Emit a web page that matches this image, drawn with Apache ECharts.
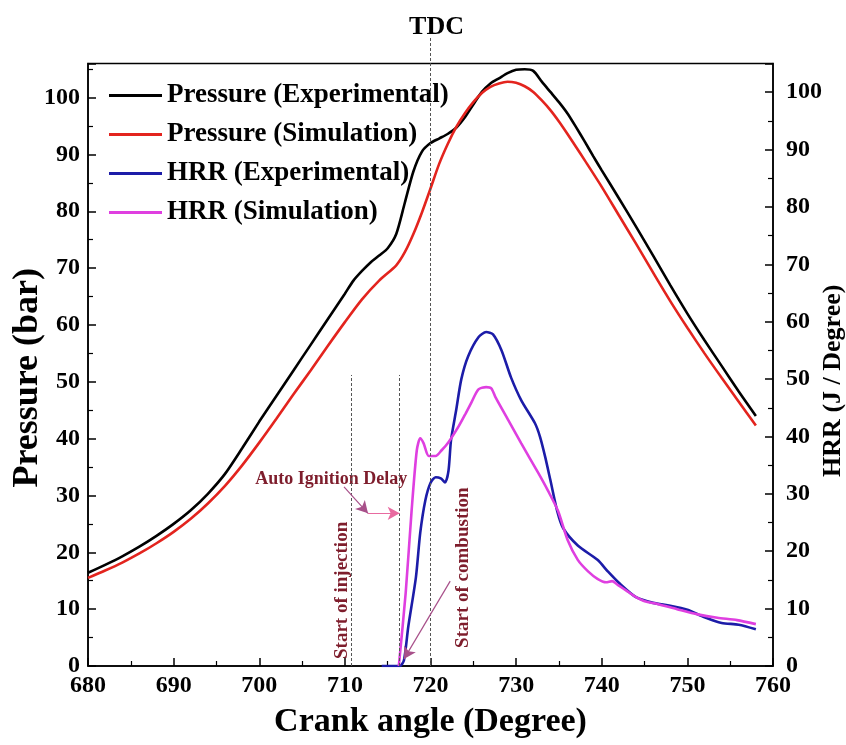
<!DOCTYPE html>
<html><head><meta charset="utf-8">
<script src="https://cdn.jsdelivr.net/npm/echarts@6/dist/echarts.min.js"></script>
<style>html,body{margin:0;padding:0;background:#fff}#c{width:846px;height:745px}</style>
</head><body><div id="c"></div>
<script>
const FONT = '"Liberation Serif","Times New Roman",serif';

const seriesNames = ['Pressure (Experimental)', 'Pressure (Simulation)', 'HRR (Experimental)', 'HRR (Simulation)'];
const seriesColors = ['#000000', '#e3241e', '#1c1ca8', '#df3fe0'];

const pExpAngle = [680,682,684,686,688,690,692,694,696,698,700,702,704,706,708,710,711,712,713,714,715,716,717,718,719,720,721,722,723,724,725,726,727,728,729,730,731,732,733,734,735,736,737,738,739,740,742,744,746,748,750,752,754,756,758];
const pExpValue = [16.4,17.8,19.3,21,22.9,25,27.4,30.3,33.8,38.3,43,47.5,52,56.5,61,65.5,67.8,69.5,71,72.2,73.5,76,81.5,87,90.5,92,92.8,93.6,94.7,96.5,98.8,101,102.5,103.4,104.3,104.9,105,104.7,102.8,101,99.2,97.2,94.8,92.3,89.7,87.2,82.3,77.3,72.2,67,62,57.3,52.8,48.3,44];

const pSimAngle = [680,682,684,686,688,690,692,694,696,698,700,702,704,706,708,710,712,714,716,717,718,719,720,721,722,723,724,725,726,727,728,729,730,731,732,733,734,735,736,737,738,740,742,744,746,748,750,752,754,756,758];
const pSimValue = [15.5,16.8,18.2,19.8,21.6,23.6,25.9,28.6,31.7,35.3,39.3,43.5,47.8,52,56.3,60.5,64.5,67.8,70.5,72.8,76,79.8,84,88.3,91.8,94.8,97.2,99.2,100.8,101.9,102.5,102.8,102.6,102,101,99.5,97.8,95.8,93.6,91.3,89,84.3,79.3,74.3,69.2,64.2,59.5,55,50.7,46.5,42.3];

const hExpAngle = [714.3,716.4,716.9,717.4,718.3,718.8,719.4,720.0,720.6,721.2,721.7,722.1,722.4,723.0,723.6,724.4,725.6,726.5,727.3,728.3,729.4,730.6,732.2,732.8,733.4,734.0,734.8,735.5,737.2,739.5,740.7,742,744,746,748,750,752,754,756,758];
const hExpValue = [0,0,1,6.8,15.5,23.2,28.9,31.9,32.9,32.7,32.0,34,39.4,44.6,50,54,57.3,58.2,57.8,55,50.3,46.3,42.3,39.9,36.4,32.4,27,24,21,18.5,16.5,14.5,12,11,10.5,9.8,8.5,7.5,7.2,6.4];

const hSimAngle = [716.3,717.1,717.8,718.4,718.8,719.2,719.8,720.6,721.3,722.1,723.3,724.1,724.8,725.6,726.5,727.1,727.6,729.1,730.6,732.6,733.7,734.9,736,737.2,738.4,739.5,740.5,741.2,742,743,744,745,746.5,748.8,751.2,753.5,755.8,758];
const hSimValue = [0,12.7,27.2,37.6,39.7,38.8,36.6,36.6,37.6,39,41.8,44,46,48.2,48.6,48.4,46.8,42.8,38.8,33.6,30.6,27,22,18.5,16.5,15.2,14.6,14.8,14,13,12,11.3,10.8,9.9,9,8.4,8,7.3];

const xTicks = {min: 680, max: 760, step: 10};
const leftTicks = {min: 0, max: 106, step: 10};
const rightTicks = {min: 0, max: 105, step: 10};

const markerAngles = {injection: 710.8, combustion: 716.3, tdc: 720};

function zip(a, b) { return a.map((v, i) => [v, b[i]]); }

const chart = echarts.init(document.getElementById('c'));

const axisCommon = {
  axisLine: {show: true, lineStyle: {color: '#000', width: 1.5}},
  axisTick: {show: true, inside: true, length: 8, lineStyle: {color: '#000', width: 1.5}},
  minorTick: {show: true, splitNumber: 2, length: 5, lineStyle: {color: '#000', width: 1.2}},
  splitLine: {show: false},
  minorSplitLine: {show: false},
  nameMoveOverlap: false,
  axisLabel: {color: '#000', fontFamily: FONT, fontWeight: 'bold', fontSize: 24,
    formatter: v => (Math.abs(v % 10) < 1e-9 ? String(v) : '')},
  nameTextStyle: {color: '#000', fontFamily: FONT, fontWeight: 'bold'}
};

const lineBase = {type: 'line', symbol: 'none', smooth: 0.25, lineStyle: {width: 2.6}};

const annoStyle = {color: '#555', width: 1, type: [3, 2]};

chart.setOption({
  animation: false,
  backgroundColor: '#fff',
  grid: {left: 88, right: 73, top: 63.5, bottom: 79, outerBoundsMode: 'none', containLabel: false,
    show: true, borderColor: '#000', borderWidth: 1.5, backgroundColor: 'transparent'},
  legend: {
    orient: 'vertical', left: 104, top: 77, itemWidth: 53, itemHeight: 3, itemGap: 12, icon: 'rect',
    data: seriesNames,
    textStyle: {color: '#000', fontFamily: FONT, fontWeight: 'bold', fontSize: 27}
  },
  xAxis: Object.assign({}, axisCommon, {
    type: 'value', min: xTicks.min, max: xTicks.max, interval: xTicks.step,
    name: 'Crank angle (Degree)', nameLocation: 'middle', nameGap: 39,
    nameTextStyle: {color: '#000', fontFamily: FONT, fontWeight: 'bold', fontSize: 34},
    axisLabel: Object.assign({}, axisCommon.axisLabel, {margin: 8})
  }),
  yAxis: [
    Object.assign({}, axisCommon, {
      type: 'value', min: leftTicks.min, max: leftTicks.max, interval: leftTicks.step, position: 'left',
      name: 'Pressure (bar)', nameLocation: 'middle', nameGap: 42, nameRotate: 90,
      nameTextStyle: {color: '#000', fontFamily: FONT, fontWeight: 'bold', fontSize: 36, padding: [0, 26, 0, 0]},
      axisLabel: Object.assign({}, axisCommon.axisLabel, {margin: 8})
    }),
    Object.assign({}, axisCommon, {
      type: 'value', min: rightTicks.min, max: rightTicks.max, interval: rightTicks.step, position: 'right',
      name: 'HRR (J / Degree)', nameLocation: 'middle', nameGap: 47, nameRotate: 90,
      nameTextStyle: {color: '#000', fontFamily: FONT, fontWeight: 'bold', fontSize: 26, padding: [0, 32, 0, 0]},
      axisLabel: Object.assign({}, axisCommon.axisLabel, {margin: 13})
    })
  ],
  series: [
    Object.assign({}, lineBase, {name: seriesNames[0], color: seriesColors[0], yAxisIndex: 0, data: zip(pExpAngle, pExpValue), z: 3}),
    Object.assign({}, lineBase, {name: seriesNames[1], color: seriesColors[1], yAxisIndex: 0, data: zip(pSimAngle, pSimValue), z: 3,
      markLine: {
        silent: true, symbol: 'none', label: {show: false}, lineStyle: annoStyle,
        data: [
          [{coord: [markerAngles.injection, 0]}, {coord: [markerAngles.injection, 51.2]}],
          [{coord: [markerAngles.combustion, 0]}, {coord: [markerAngles.combustion, 51.2]}],
          [{coord: [markerAngles.tdc, 0]}, {coord: [markerAngles.tdc, leftTicks.max]}]
        ]
      }}),
    Object.assign({}, lineBase, {name: seriesNames[2], color: seriesColors[2], yAxisIndex: 1, data: zip(hExpAngle, hExpValue), z: 4,
      markLine: {
        silent: true, symbol: ['none', 'arrow'], symbolSize: [10, 12], label: {show: false},
        data: [
          [{coord: [709.9, 31.2], lineStyle: {color: '#a8508a', width: 1.2, type: 'solid'}, symbol: 'none'},
           {coord: [712.7, 26.6], symbol: 'arrow', itemStyle: {color: '#e8307a'}}],
          [{coord: [712.7, 26.6], lineStyle: {color: '#e86aa0', width: 1.2, type: 'solid'}, symbol: 'none'},
           {coord: [716.4, 26.6], symbol: 'arrow', itemStyle: {color: '#e8307a'}}],
          [{coord: [722.3, 14.8], lineStyle: {color: '#a8508a', width: 1.2, type: 'solid'}, symbol: 'none'},
           {coord: [716.9, 1.2], symbol: 'arrow', itemStyle: {color: '#e8307a'}}]
        ]
      }}),
    Object.assign({}, lineBase, {name: seriesNames[3], color: seriesColors[3], yAxisIndex: 1, data: zip(hSimAngle, hSimValue), z: 4})
  ]
});

function px(x, y) { return chart.convertToPixel({xAxisIndex: 0, yAxisIndex: 0}, [x, y]); }

const tdcTop = px(markerAngles.tdc, leftTicks.max);
const autoPos = px(708.4, 32.9);
const injPos = px(709.7, 13.3);
const combPos = px(723.8, 17.3);
const annoColor = '#7e1d2c';

chart.setOption({
  graphic: [
    {type: 'line', silent: true, shape: {x1: tdcTop[0], y1: 38, x2: tdcTop[0], y2: tdcTop[1]},
      style: {stroke: '#555', lineWidth: 1, lineDash: [3, 2]}},
    {type: 'text', silent: true, x: tdcTop[0] + 6, y: 27,
      style: {text: 'TDC', fill: '#000', font: 'bold 26px ' + FONT, align: 'center', verticalAlign: 'middle'}},
    {type: 'text', silent: true, x: autoPos[0], y: autoPos[1],
      style: {text: 'Auto Ignition Delay', fill: annoColor, font: 'bold 18px ' + FONT, align: 'center', verticalAlign: 'middle'}},
    {type: 'text', silent: true, x: injPos[0], y: injPos[1], rotation: Math.PI / 2,
      style: {text: 'Start of injection', fill: annoColor, font: 'bold 19px ' + FONT, align: 'center', verticalAlign: 'middle'}},
    {type: 'text', silent: true, x: combPos[0], y: combPos[1], rotation: Math.PI / 2,
      style: {text: 'Start of combustion', fill: annoColor, font: 'bold 19px ' + FONT, align: 'center', verticalAlign: 'middle'}}
  ]
});
</script>
</body></html>
